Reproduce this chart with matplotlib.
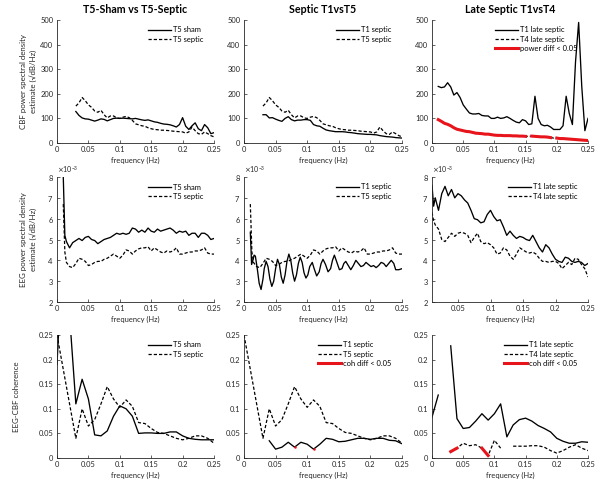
import numpy as np
import matplotlib
matplotlib.use("Agg")
import matplotlib.pyplot as plt
from matplotlib.ticker import FuncFormatter, ScalarFormatter, MultipleLocator

plt.rcParams['font.family'] = ['Lato', 'DejaVu Sans']

# ---------------- data ----------------
# CBF power spectra (panels 1-2 start at 0.03 Hz, panel 3 at 0.01 Hz)
f_cbf = np.round(np.arange(0.03, 0.2501, 0.005), 4)
f_cbf_late = np.round(np.arange(0.01, 0.2501, 0.005), 4)

cbf_t5_sham = [128, 112, 102, 98, 97, 93, 89, 93, 98, 96, 90, 95, 100, 101, 100,
               101, 100, 99, 98, 100, 97, 94, 92, 94, 90, 86, 84, 80, 77, 76,
               74, 70, 65, 75, 103, 68, 55, 70, 82, 58, 50, 75, 62, 38, 42]
cbf_t5_septic = [150, 163, 185, 172, 155, 145, 130, 125, 133, 115, 102, 110, 110, 102, 100,
                 105, 108, 103, 92, 78, 74, 70, 68, 62, 58, 55, 54, 52, 52, 51,
                 50, 48, 47, 46, 45, 40, 45, 65, 50, 38, 35, 45, 38, 30, 25]
cbf_t1_septic = [115, 115, 102, 103, 97, 92, 88, 100, 107, 95, 90, 93, 93, 95, 95,
                 92, 75, 70, 68, 60, 53, 50, 48, 46, 46, 46, 45, 43, 42, 40,
                 38, 37, 36, 35, 35, 34, 33, 30, 28, 26, 25, 24, 22, 21, 20]
cbf_t1_late = [230, 225, 228, 245, 228, 195, 205, 185, 155, 138, 122, 118, 118, 120, 112,
               110, 110, 100, 100, 105, 100, 102, 107, 100, 92, 85, 82, 95, 90, 75,
               78, 190, 100, 75, 70, 72, 65, 55, 55, 55, 70, 190, 120, 75, 330,
               490, 230, 50, 100]
cbf_t4_late = [95, 88, 80, 76, 70, 62, 56, 53, 50, 47, 46, 43, 40, 39, 38,
               36, 36, 34, 32, 31, 31, 30, 30, 30, 29, 29, 28, 28, 27, 27,
               28, 27, 26, 25, 25, 24, 22, 20, 20, 18, 18, 17, 16, 15, 14,
               13, 12, 11, 10]
cbf_late_nonsig = [0.155, 0.195]  # frequencies where power diff p >= 0.05

# EEG power spectra (x1e-3)
f_eeg = np.round(np.r_[0.01, 0.0125, np.arange(0.015, 0.2501, 0.005)], 4)
eeg_t5_sham = [8.0, 5.2, 4.9, 4.6, 4.85, 4.95, 5.05, 4.95, 5.1, 5.15, 5.0, 4.95, 4.8, 4.9, 5.0,
               5.05, 5.1, 5.2, 5.3, 5.25, 5.3, 5.25, 5.3, 5.55, 5.5, 5.35, 5.45, 5.35, 5.55, 5.4,
               5.35, 5.5, 5.4, 5.45, 5.5, 5.55, 5.45, 5.3, 5.4, 5.35, 5.4, 5.2, 5.3, 5.3, 5.1,
               5.3, 5.3, 5.2, 5.0, 5.05]
eeg_t5_septic = [6.7, 4.4, 3.9, 3.7, 3.65, 3.85, 4.1, 4.05, 3.95, 3.75, 3.8, 3.9, 3.95, 3.95, 4.05,
                 4.1, 4.2, 4.3, 4.2, 4.1, 4.25, 4.5, 4.45, 4.3, 4.45, 4.55, 4.6, 4.6, 4.65, 4.45,
                 4.6, 4.5, 4.4, 4.35, 4.45, 4.4, 4.45, 4.6, 4.3, 4.3, 4.35, 4.4, 4.4, 4.45, 4.45,
                 4.5, 4.6, 4.35, 4.3, 4.3]
f_eeg_t1 = [0.01, 0.011, 0.012, 0.014, 0.016, 0.018, 0.021, 0.024, 0.027, 0.03, 0.032, 0.035,
            0.038, 0.041, 0.044, 0.047, 0.05, 0.053, 0.056, 0.059, 0.062, 0.065, 0.068, 0.071,
            0.074, 0.077, 0.08, 0.083, 0.086, 0.089, 0.092, 0.095, 0.098, 0.101, 0.104, 0.108,
            0.111, 0.115, 0.119, 0.122, 0.125, 0.129, 0.133, 0.137, 0.14, 0.143, 0.147, 0.151,
            0.155, 0.158, 0.161, 0.165, 0.169, 0.173, 0.177, 0.181, 0.185, 0.189, 0.193, 0.197,
            0.201, 0.205, 0.209, 0.213, 0.217, 0.221, 0.225, 0.229, 0.233, 0.237, 0.24, 0.245, 0.25]
eeg_t1_septic = [5.35, 4.6, 3.8, 4.0, 4.25, 4.2, 3.6, 2.9, 2.6, 3.1, 3.6, 3.95,
                 3.7, 3.1, 2.75, 3.0, 3.6, 4.05, 3.8, 3.2, 2.9, 3.3, 3.95, 4.3,
                 4.0, 3.4, 3.0, 3.3, 3.85, 4.15, 3.9, 3.4, 3.15, 3.3, 3.7, 3.9,
                 3.6, 3.25, 3.45, 3.85, 4.05, 3.8, 3.45, 3.6, 4.0, 4.25, 3.9, 3.55,
                 3.6, 3.85, 3.95, 3.75, 3.55, 3.75, 4.0, 3.85, 3.7, 3.75, 3.9, 3.8,
                 3.7, 3.75, 3.65, 3.75, 3.9, 3.85, 3.7, 3.85, 4.0, 3.85, 3.55, 3.55, 3.6]
eeg_t1_late = [7.6, 6.6, 7.0, 6.4, 7.2, 7.55, 7.1, 7.4, 7.0, 7.2, 7.1, 6.9, 6.75, 6.4, 6.0,
               5.95, 5.8, 5.85, 6.2, 6.4, 6.1, 5.9, 5.95, 5.6, 5.2, 5.4, 5.2, 5.05, 5.15, 5.1,
               5.0, 4.95, 5.2, 4.9, 4.6, 4.4, 4.75, 4.6, 4.3, 4.05, 3.95, 3.9, 4.15, 4.1, 3.95,
               3.9, 3.95, 3.9, 3.75, 3.85]
eeg_t4_late = [6.3, 5.9, 5.7, 5.5, 5.0, 4.9, 5.1, 5.3, 5.15, 5.3, 5.35, 5.3, 5.2, 4.85, 5.1,
               5.3, 4.9, 4.8, 4.85, 4.75, 4.6, 4.3, 4.35, 4.6, 4.5, 4.2, 4.05, 4.3, 4.6, 4.5,
               4.4, 4.35, 4.4, 4.3, 4.1, 3.95, 3.95, 3.9, 3.95, 3.95, 3.85, 3.6, 3.75, 3.9, 3.8,
               4.1, 4.05, 3.8, 3.6, 3.2]

# EEG-CBF coherence
f_coh = np.round(np.arange(0, 0.2501, 0.01), 3)
nan = np.nan
coh_t5_sham = [0.19, 0.45, 0.29, 0.11, 0.16, 0.12, 0.047, 0.045, 0.055, 0.085, 0.106, 0.1, 0.085,
               0.05, 0.051, 0.051, 0.05, 0.05, 0.053, 0.053, 0.045, 0.04, 0.038, 0.037, 0.037, 0.037]
coh_t5_septic = [0.25, 0.18, 0.11, 0.04, 0.1, 0.065, 0.078, 0.11, 0.145, 0.12, 0.103, 0.118, 0.105,
                 0.072, 0.07, 0.06, 0.052, 0.05, 0.045, 0.04, 0.037, 0.04, 0.045, 0.045, 0.04, 0.03]
coh_t1_septic = [nan, nan, nan, nan, 0.035, 0.018, 0.022, 0.032, 0.022, 0.032, 0.028, 0.018, 0.028,
                 0.04, 0.038, 0.033, 0.034, 0.037, 0.04, 0.04, 0.038, 0.04, 0.04, 0.036, 0.035, 0.029]
coh_t1_late = [0.083, 0.128, nan, 0.228, 0.08, 0.06, 0.062, 0.075, 0.09, 0.077, 0.09, 0.11, 0.043,
               0.067, 0.078, 0.081, 0.075, 0.066, 0.06, 0.053, 0.04, 0.034, 0.03, 0.03, 0.033, 0.032]
coh_t4_late = [nan, nan, nan, 0.013, 0.02, 0.03, 0.025, 0.027, 0.02, 0.005, 0.036, 0.02, nan,
               0.024, 0.024, 0.024, 0.025, 0.025, 0.022, 0.015, 0.01, 0.015, 0.022, 0.027, 0.02, 0.015]
coh_sig_t1t5 = [0.08, 0.11]
coh_sig_late = [0.03, 0.04, 0.08, 0.09]

titles = ["T5-Sham vs T5-Septic", "Septic T1vsT5", "Late Septic T1vsT4"]
row_ylabels = ["CBF power spectral density\nestimate (\u221adB/Hz)",
               "EEG power spectral density\nestimate (\u221adB/Hz)",
               "EEG-CBF coherence"]


def mask(f, y, freqs, keep):
    f = np.asarray(f)
    hit = np.isin(np.round(f, 4), np.round(freqs, 4))
    if not keep:
        hit = ~hit
    return np.where(hit, np.asarray(y, float), np.nan)


# ---------------- figure ----------------
W, H = 601, 483
fig = plt.figure(figsize=(W / 100, H / 100), dpi=100)

cols = [(57, 214), (244, 402), (432, 588)]
rows = [(20, 143), (177, 302), (335, 458)]
axes = [[fig.add_axes([x0 / W, 1 - y1 / H, (x1 - x0) / W, (y1 - y0) / H])
         for (x0, x1) in cols] for (y0, y1) in rows]

ink = '#262626'
fs = 5.4
solid = dict(color='black', lw=0.95)
dashed = dict(color='black', lw=0.9, dashes=(2.6, 1.6))
red = dict(color='#e8141b', lw=2.2)

# row 1: CBF
a = axes[0]
a[0].plot(f_cbf, cbf_t5_sham, label='T5 sham', **solid)
a[0].plot(f_cbf, cbf_t5_septic, label='T5 septic', **dashed)
a[1].plot(f_cbf, cbf_t1_septic, label='T1 septic', **solid)
a[1].plot(f_cbf, cbf_t5_septic, label='T5 septic', **dashed)
a[2].plot(f_cbf_late, cbf_t1_late, label='T1 late septic', **solid)
a[2].plot(f_cbf_late, cbf_t4_late, label='T4 late septic', **dashed)
a[2].plot(f_cbf_late, mask(f_cbf_late, cbf_t4_late, cbf_late_nonsig, False),
          label='power diff < 0.05', **red)
for ax in a:
    ax.set_ylim(0, 500)
    ax.yaxis.set_major_locator(MultipleLocator(100))

# row 2: EEG
e = 1e-3
a = axes[1]
a[0].plot(f_eeg, np.array(eeg_t5_sham) * e, label='T5 sham', **solid)
a[0].plot(f_eeg, np.array(eeg_t5_septic) * e, label='T5 septic', **dashed)
a[1].plot(f_eeg_t1, np.array(eeg_t1_septic) * e, label='T1 septic', **solid)
a[1].plot(f_eeg, np.array(eeg_t5_septic) * e, label='T5 septic', **dashed)
a[2].plot(f_eeg, np.array(eeg_t1_late) * e, label='T1 late septic', **solid)
a[2].plot(f_eeg, np.array(eeg_t4_late) * e, label='T4 late septic', **dashed)
for ax in a:
    ax.set_ylim(2e-3, 8e-3)
    ax.yaxis.set_major_locator(MultipleLocator(1e-3))
    fmt = ScalarFormatter(useMathText=True)
    fmt.set_powerlimits((-3, -3))
    ax.yaxis.set_major_formatter(fmt)
    ax.yaxis.get_offset_text().set_fontsize(5)
    ax.yaxis.get_offset_text().set_color(ink)

# row 3: coherence
a = axes[2]
a[0].plot(f_coh, coh_t5_sham, label='T5 sham', **solid)
a[0].plot(f_coh, coh_t5_septic, label='T5 septic', **dashed)
a[1].plot(f_coh, coh_t1_septic, label='T1 septic', **solid)
a[1].plot(f_coh, coh_t5_septic, label='T5 septic', **dashed)
a[1].plot(f_coh, mask(f_coh, coh_t1_septic, coh_sig_t1t5, True), label='coh diff < 0.05',
          marker='o', ms=1.8, mec='none', **red)
a[2].plot(f_coh, coh_t1_late, label='T1 late septic', **solid)
a[2].plot(f_coh, coh_t4_late, label='T4 late septic', **dashed)
a[2].plot(f_coh, mask(f_coh, coh_t4_late, coh_sig_late, True), label='coh diff < 0.05', **red)
for ax in a:
    ax.set_ylim(0, 0.25)
    ax.yaxis.set_major_locator(MultipleLocator(0.05))
    ax.yaxis.set_major_formatter(FuncFormatter(lambda v, p: '%g' % round(v, 3)))

gfmt = FuncFormatter(lambda v, p: '%g' % round(v, 3))
for r in range(3):
    for c in range(3):
        ax = axes[r][c]
        ax.set_xlim(0, 0.25)
        ax.xaxis.set_major_locator(MultipleLocator(0.05))
        ax.xaxis.set_major_formatter(gfmt)
        for s in ['top', 'right']:
            ax.spines[s].set_visible(False)
        for s in ['left', 'bottom']:
            ax.spines[s].set_color(ink)
            ax.spines[s].set_linewidth(0.6)
        ax.tick_params(direction='in', length=2, width=0.5, labelsize=fs,
                       colors=ink, pad=2.5)
        ax.set_xlabel('frequency (Hz)', fontsize=fs, color=ink, labelpad=2.5)
        ax.legend(loc='upper right', frameon=False, fontsize=fs, handlelength=3.1,
                  handletextpad=0.2, labelspacing=0.3, borderaxespad=0.0, borderpad=0.2,
                  bbox_to_anchor=(0.94, 0.96))

# y labels placed like the original (right edge of the label block in axes coords)
label_x = [-0.125, -0.125, -0.235]
for r in range(3):
    ax = axes[r][0]
    ax.set_ylabel(row_ylabels[r], fontsize=5.7, color=ink, linespacing=1.45)
    ax.yaxis.set_label_coords(label_x[r], 0.5)

axes[1][2].set_xlim(0.01, 0.25)

for c in range(3):
    axes[0][c].set_title(titles[c], fontsize=7.7, fontweight='bold', pad=5)

fig.savefig('out.png', dpi=100, facecolor='white')
